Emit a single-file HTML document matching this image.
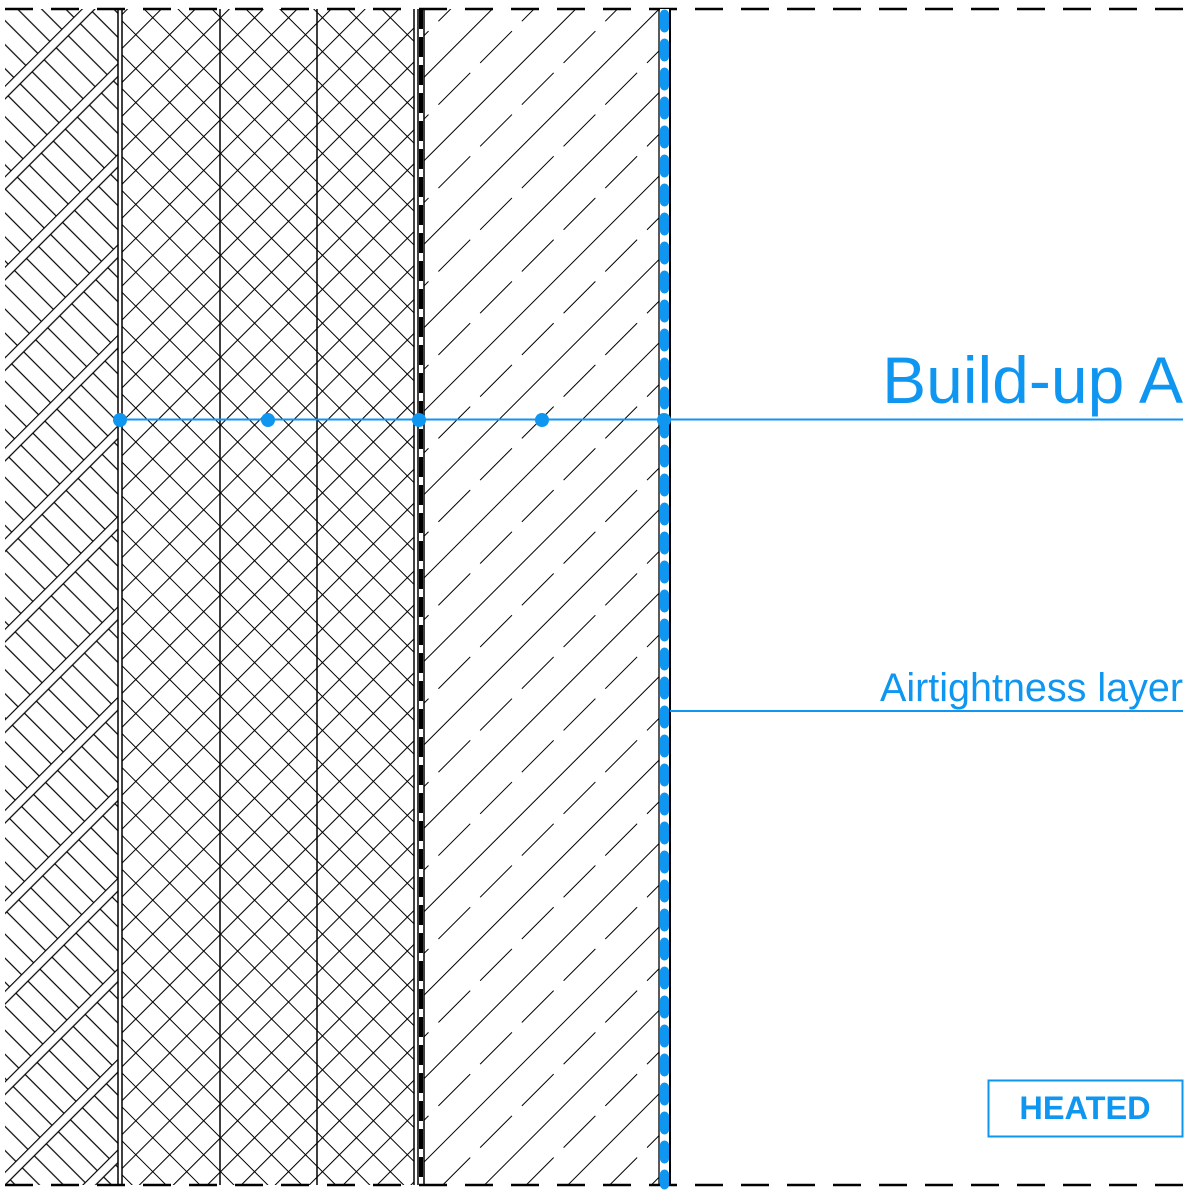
<!DOCTYPE html>
<html><head><style>html,body{margin:0;padding:0;background:#fff;}svg{display:block}</style></head>
<body>
<svg width="1200" height="1195" viewBox="0 0 1200 1195" xmlns="http://www.w3.org/2000/svg">
<defs>
<pattern id="brick" width="68" height="64" patternUnits="userSpaceOnUse" patternTransform="rotate(-45)">
<line x1="0" y1="0.5" x2="68" y2="0.5" stroke="#000" stroke-width="1.2"/>
<line x1="0" y1="9.5" x2="68" y2="9.5" stroke="#000" stroke-width="1.2"/>
<g stroke="#000" stroke-width="1.2">
<line x1="6" y1="9.5" x2="6" y2="64"/><line x1="23" y1="9.5" x2="23" y2="64"/><line x1="40" y1="9.5" x2="40" y2="64"/><line x1="57" y1="9.5" x2="57" y2="64"/>
</g>
</pattern>
<pattern id="cross" width="24" height="24" patternUnits="userSpaceOnUse" patternTransform="rotate(45)">
<line x1="0" y1="0.5" x2="24" y2="0.5" stroke="#000" stroke-width="1.1"/>
<line x1="0.5" y1="0" x2="0.5" y2="24" stroke="#000" stroke-width="1.1"/>
</pattern>
<pattern id="diag" width="118" height="59" patternUnits="userSpaceOnUse" patternTransform="rotate(-45)">
<line x1="0" y1="0.5" x2="118" y2="0.5" stroke="#000" stroke-width="1.1"/>
<line x1="0" y1="30" x2="118" y2="30" stroke="#000" stroke-width="1.1" stroke-dasharray="45 14"/>
</pattern>
</defs>
<rect x="5" y="9" width="113" height="1176" fill="url(#brick)"/>
<rect x="122" y="9" width="292" height="1176" fill="url(#cross)"/>
<rect x="424" y="9" width="235" height="1176" fill="url(#diag)"/>
<g stroke="#000" stroke-width="1.5">
<line x1="118" y1="9" x2="118" y2="1185"/><line x1="122" y1="9" x2="122" y2="1185"/>
<line x1="220" y1="9" x2="220" y2="1185"/><line x1="317" y1="9" x2="317" y2="1185"/>
<line x1="414" y1="9" x2="414" y2="1185"/><line x1="418" y1="9" x2="418" y2="1185"/>
<line x1="424" y1="9" x2="424" y2="1185"/>
</g>
<line x1="421" y1="9" x2="421" y2="1185" stroke="#000" stroke-width="4" stroke-dasharray="20 8"/>
<g stroke="#000" stroke-width="2.5" stroke-dasharray="28 18">
<line x1="5" y1="9" x2="1195" y2="9"/><line x1="5" y1="1185" x2="1195" y2="1185"/>
</g>
<rect x="660" y="9" width="10" height="1176" fill="#fff"/>
<line x1="664.5" y1="14" x2="664.5" y2="1185" stroke="#0f96f0" stroke-width="9" stroke-linecap="round" stroke-dasharray="14 15"/>
<line x1="670" y1="9" x2="670" y2="1185" stroke="#000" stroke-width="2"/>
<line x1="659" y1="9" x2="659" y2="1185" stroke="#000" stroke-width="1.3"/>
<line x1="118" y1="419.5" x2="1183" y2="419.5" stroke="#0f96f0" stroke-width="2"/>
<g fill="#0f96f0"><circle cx="120" cy="420" r="7"/><circle cx="268" cy="420" r="7"/><circle cx="419" cy="420" r="7"/><circle cx="542" cy="420" r="7"/><circle cx="664" cy="420" r="7"/></g>
<text x="1183" y="403" text-anchor="end" font-family="Liberation Sans, sans-serif" font-size="66" fill="#0f96f0">Build-up A</text>
<line x1="670" y1="711" x2="1183" y2="711" stroke="#0f96f0" stroke-width="2"/>
<text x="1183" y="701" text-anchor="end" font-family="Liberation Sans, sans-serif" font-size="39.5" fill="#0f96f0">Airtightness layer</text>
<rect x="988.5" y="1080.5" width="194" height="56" fill="#fff" stroke="#0f96f0" stroke-width="2"/>
<text x="1085" y="1119" text-anchor="middle" font-family="Liberation Sans, sans-serif" font-weight="bold" font-size="32.5" fill="#0f96f0">HEATED</text>
</svg>
</body></html>
